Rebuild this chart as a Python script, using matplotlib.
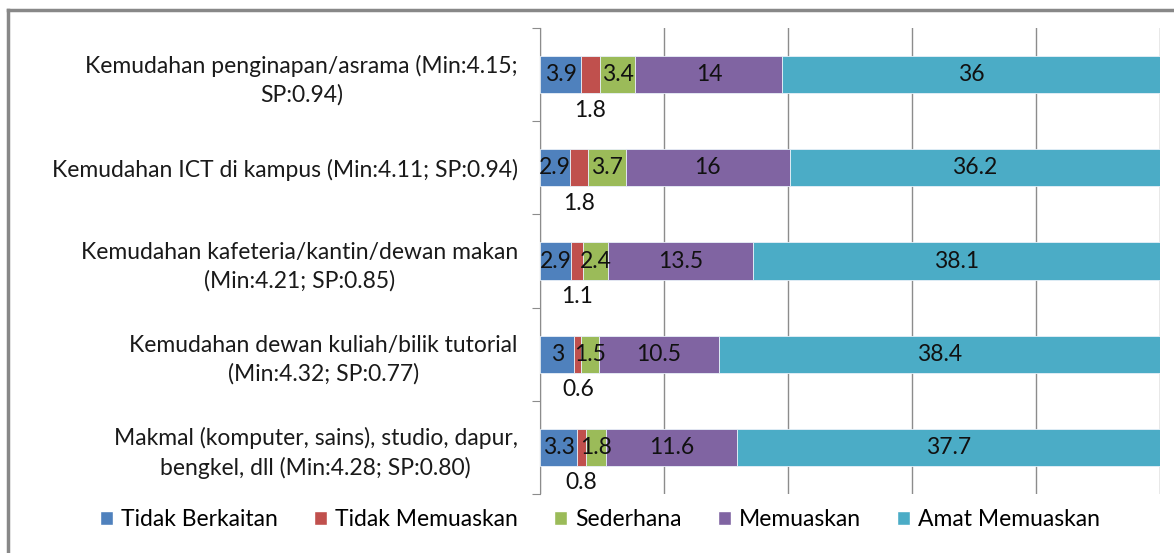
import numpy as np
import matplotlib.pyplot as plt
from matplotlib.lines import Line2D
from matplotlib.patches import Patch

plt.rcParams['font.family'] = ['Lato', 'DejaVu Sans']

# Data
categories = [
    "Kemudahan penginapan/asrama (Min:4.15;\nSP:0.94)",
    "Kemudahan ICT di kampus (Min:4.11; SP:0.94)",
    "Kemudahan kafeteria/kantin/dewan makan\n(Min:4.21; SP:0.85)",
    "Kemudahan dewan kuliah/bilik tutorial\n(Min:4.32; SP:0.77)",
    "Makmal (komputer, sains), studio, dapur,\nbengkel, dll (Min:4.28; SP:0.80)",
]
series_names = ["Tidak Berkaitan", "Tidak Memuaskan", "Sederhana", "Memuaskan", "Amat Memuaskan"]
tidak_berkaitan = [3.9, 2.9, 2.9, 3.0, 3.3]
tidak_memuaskan = [1.8, 1.8, 1.1, 0.6, 0.8]
sederhana = [3.4, 3.7, 2.4, 1.5, 1.8]
memuaskan = [14, 16, 13.5, 10.5, 11.6]
amat_memuaskan = [36, 36.2, 38.1, 38.4, 37.7]
colors = ["#4F81BD", "#C0504D", "#9BBB59", "#8064A2", "#4BACC6"]

values = np.array([tidak_berkaitan, tidak_memuaskan, sederhana, memuaskan, amat_memuaskan])
totals = values.sum(axis=0)
shares = values / totals * 100  # 100% stacked

fig = plt.figure(figsize=(11.74, 5.53), dpi=100)
ax = fig.add_axes([540 / 1174, 1 - 494 / 553, 620 / 1174, 466 / 553])

fs = 16.5
y = np.arange(len(categories))
left = np.zeros(len(categories))
for i, name in enumerate(series_names):
    ax.barh(y, shares[i], left=left, height=0.4, color=colors[i],
            edgecolor="#E8F0F8", linewidth=0.6, label=name, zorder=3)
    for j in range(len(categories)):
        xc = left[j] + shares[i][j] / 2
        txt = f"{values[i][j]:g}"
        if i == 1:
            ax.text(xc, y[j] + 0.38, txt, ha="center", va="center", fontsize=fs, color="#111111")
        else:
            ax.text(xc, y[j], txt, ha="center", va="center", fontsize=fs, color="#111111", zorder=4)
    left += shares[i]

ax.set_xlim(0, 100)
ax.set_ylim(len(categories) - 0.5, -0.5)
ax.set_xticks([0, 20, 40, 60, 80, 100])
ax.xaxis.grid(True, color="#8C8C8C", linewidth=1, zorder=0)
ax.tick_params(axis="x", length=0, labelbottom=False)

ax.set_yticks(np.arange(-0.5, len(categories)), labels=[""] * (len(categories) + 1))
ax.tick_params(axis="y", which="major", length=6, color="#8C8C8C", direction="out")
ax.set_yticks(y, minor=True)
ax.set_yticklabels(categories, minor=True, multialignment="center", linespacing=1.4,
                   fontsize=fs, color="#1a1a1a")
ax.tick_params(axis="y", which="minor", length=0, pad=16)

for s in ["top", "right", "bottom"]:
    ax.spines[s].set_visible(False)
ax.spines["left"].set_color("#8C8C8C")

handles = [Patch(facecolor=c, edgecolor="white") for c in colors]
fig.legend(handles, series_names, loc="center", bbox_to_anchor=(600 / 1174, 1 - 520 / 553),
           ncol=5, frameon=False, fontsize=fs, handlelength=0.55, handleheight=0.55,
           handletextpad=0.35, columnspacing=1.6)

# chart border
fig.add_artist(Line2D([8 / 1174, 1], [1 - 10 / 553] * 2, transform=fig.transFigure, color="#888888", lw=2.5))
fig.add_artist(Line2D([8 / 1174] * 2, [0, 1 - 10 / 553], transform=fig.transFigure, color="#888888", lw=2.5))

fig.savefig("out.png", dpi=100)
